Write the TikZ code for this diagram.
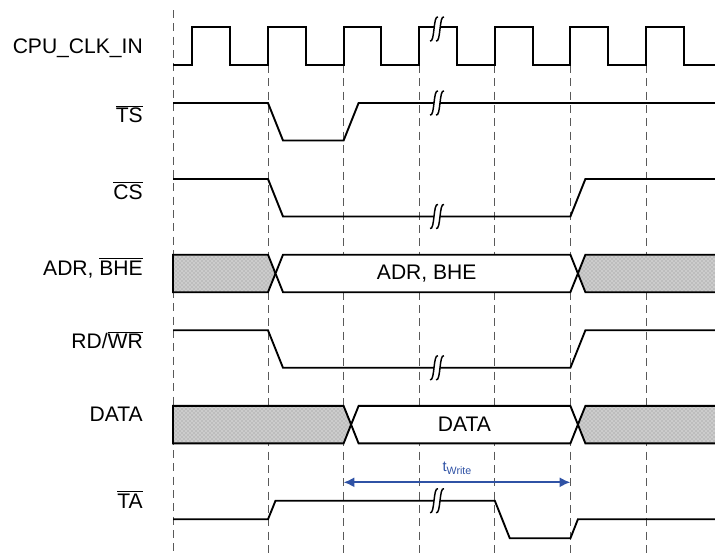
\documentclass[tikz,border=0pt]{standalone}
\usepackage{fontspec}
\setmainfont{Liberation Sans}
\usetikzlibrary{arrows.meta,patterns}
\definecolor{twblue}{RGB}{47,82,165}
\newcommand{\ovl}[1]{$\overline{\mbox{#1}}$}

\begin{document}
\begin{tikzpicture}[x=0.75pt,y=-0.75pt,
    sig/.style={line width=1.4pt,black,line join=miter},
    grid/.style={line width=0.7pt,black!65,dash pattern=on 6pt off 4pt},
    hatch/.style={preaction={fill=gray!52},pattern=crosshatch dots,pattern color=white},
    bus/.style={sig,fill=white},
    lbl/.style={anchor=base east,inner sep=0pt,font=\fontsize{15.8}{18}\selectfont},
    buslbl/.style={inner sep=0pt,font=\fontsize{15.8}{18}\selectfont},
    span/.style={{Latex[length=8pt,width=7.5pt]}-{Latex[length=8pt,width=7.5pt]},line width=1.4pt,twblue},
    brk/.pic={
        \fill[white] (-7,12) .. controls (-2,14) and (-4,-14) .. (1,-12)
            -- (7,-12) .. controls (2,-14) and (4,14) .. (-1,12) -- cycle;
        \draw[line width=1.1pt] (-7,12) .. controls (-2,14) and (-4,-14) .. (1,-12);
        \draw[line width=1.1pt] (-1,12) .. controls (4,14) and (2,-14) .. (7,-12);
    }
]
\useasboundingbox (0,0) rectangle (715,553);
% grid
\draw[grid] (173,10) -- (173,553);
\foreach \k in {0,...,5}
    \draw[grid] ({268+75.6*\k},65) -- ({268+75.6*\k},553);
% signal names
\node[lbl] (lclk) at (143,53.5) {CPU\_CLK\_IN};
\node[lbl] (lts) at (143,122.7) {\ovl{TS}};
\node[lbl] (lcs) at (143,199) {\ovl{CS}};
\node[lbl] (ladr) at (143,275) {ADR, \ovl{BHE}};
\node[lbl] (lrd) at (143,348.3) {RD/\ovl{WR}};
\node[lbl] (ldata) at (143,421.7) {DATA};
\node[lbl] (lta) at (143,508) {\ovl{TA}};
% clock
\draw[sig] (173,65) \foreach \k in {0,...,6} {
    -- ({192.4+75.6*\k},65) -- ({192.4+75.6*\k},27.3)
    -- ({230.2+75.6*\k},27.3) -- ({230.2+75.6*\k},65)} -- (715,65);
% TS, CS, RD/WR
\draw[sig] (173,103) -- (268,103) -- (283,140.5) -- (343.6,140.5) -- (358.6,103) -- (715,103);
\draw[sig] (173,179) -- (268,179) -- (283,216.5) -- (570.4,216.5) -- (585.4,179) -- (715,179);
\draw[sig] (173,330.3) -- (268,330.3) -- (283,367.8) -- (570.4,367.8) -- (585.4,330.3) -- (715,330.3);
% ADR bus
\path[hatch] (173,254.7) -- (268,254.7) -- (275.5,273.5) -- (268,292.2) -- (173,292.2) -- cycle;
\draw[sig] (173,254.7) -- (268,254.7) -- (275.5,273.5) -- (268,292.2) -- (173,292.2) -- cycle;
\path[hatch] (715,254.7) -- (585.4,254.7) -- (577.9,273.5) -- (585.4,292.2) -- (715,292.2) -- cycle;
\draw[sig] (715,254.7) -- (585.4,254.7) -- (577.9,273.5) -- (585.4,292.2) -- (715,292.2);
\draw[bus] (283,254.7) -- (570.4,254.7) -- (577.9,273.5) -- (570.4,292.2) -- (283,292.2) -- (275.5,273.5) -- cycle;
\node[buslbl] (adr) at (426.7,273.5) {ADR, BHE};
% DATA bus
\path[hatch] (173,405.9) -- (343.6,405.9) -- (351.1,424.6) -- (343.6,443.4) -- (173,443.4) -- cycle;
\draw[sig] (173,405.9) -- (343.6,405.9) -- (351.1,424.6) -- (343.6,443.4) -- (173,443.4) -- cycle;
\path[hatch] (715,405.9) -- (585.4,405.9) -- (577.9,424.6) -- (585.4,443.4) -- (715,443.4) -- cycle;
\draw[sig] (715,405.9) -- (585.4,405.9) -- (577.9,424.6) -- (585.4,443.4) -- (715,443.4);
\draw[bus] (358.6,405.9) -- (570.4,405.9) -- (577.9,424.6) -- (570.4,443.4) -- (358.6,443.4) -- (351.1,424.6) -- cycle;
\node[buslbl] (data) at (464.5,424.6) {DATA};
% TA
\draw[sig] (173,519.3) -- (268,519.3) -- (275.5,500.7) -- (494.8,500.7) -- (509.8,538.3) -- (570.4,538.3) -- (577.9,519.3) -- (715,519.3);
% breaks
\foreach \y in {29,103,216.5,367.8,500.7}
    \pic at (437,\y) {brk};
% write time
\coordinate (ws) at (343.6,482.3);
\coordinate (we) at (570.4,482.3);
\draw[span] (ws) -- (we);
\node[twblue,inner sep=0pt,anchor=base] (tw) at (457,471.5) {\fontsize{11}{12}\selectfont t\raisebox{-0.35ex}{\fontsize{8}{9}\selectfont Write}};
\end{tikzpicture}
\end{document}
